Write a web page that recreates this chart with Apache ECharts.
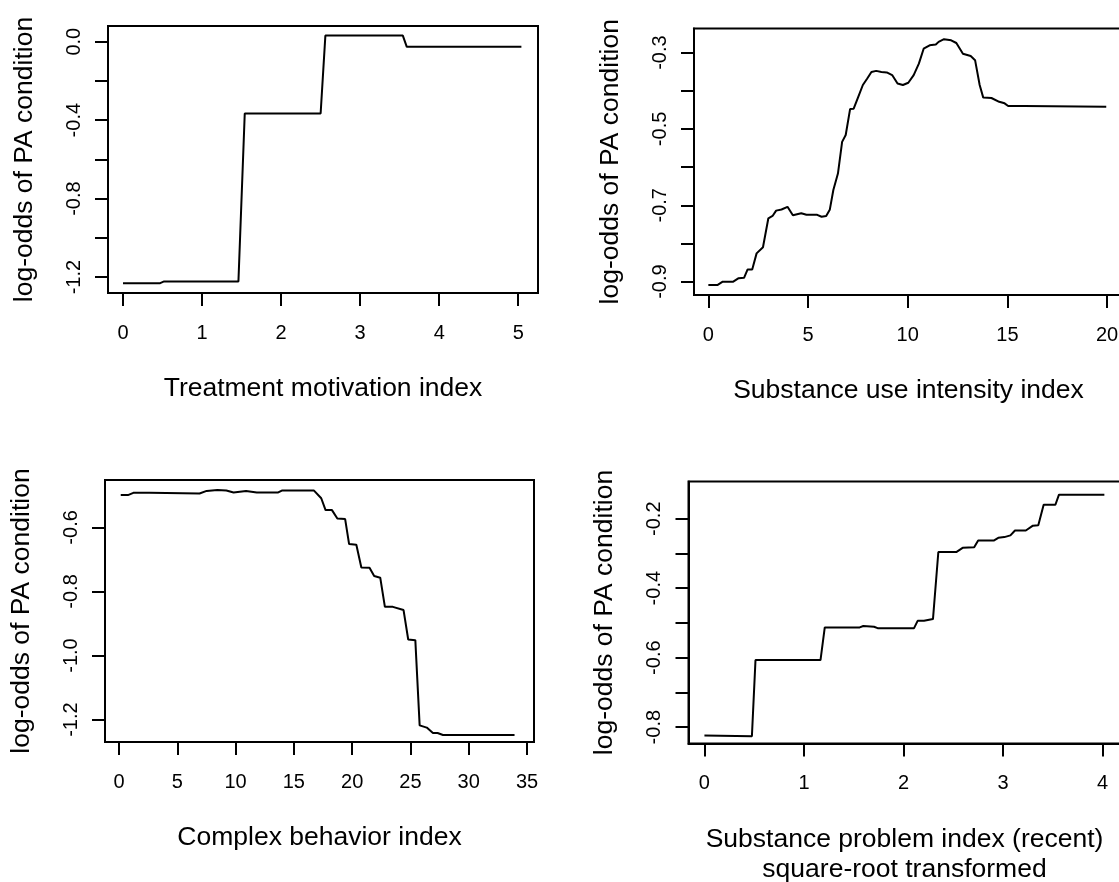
<!DOCTYPE html>
<html>
<head>
<meta charset="utf-8">
<script src="https://cdn.jsdelivr.net/npm/echarts@6/dist/echarts.min.js"></script>
<style>
  html, body { margin: 0; padding: 0; background: #fff; }
  #chart { width: 1119px; height: 882px; }
</style>
</head>
<body>
<div id="chart"></div>
<script>
// partial dependence curves
const motivX = [0, 0.47, 0.52, 1.46, 1.54, 2.50, 2.56, 3.54, 3.59, 5.04];
const motivY = [-1.231, -1.231, -1.222, -1.222, -0.366, -0.366, 0.031, 0.031, -0.026, -0.026];

const useX = [0, 0.45, 0.72, 1.25, 1.52, 1.79, 1.97, 2.20, 2.42, 2.74, 3.01, 3.22, 3.40, 3.67, 3.97,
  4.24, 4.66, 4.92, 5.46, 5.68, 5.91, 6.09, 6.27, 6.50, 6.71, 6.89, 7.11, 7.29, 7.52, 7.75, 7.97,
  8.18, 8.42, 8.68, 8.95, 9.22, 9.49, 9.76, 10.03, 10.30, 10.56, 10.80, 11.10, 11.41, 11.55, 11.82,
  12.18, 12.44, 12.77, 13.16, 13.38, 13.61, 13.79, 14.20, 14.59, 14.86, 15.04, 15.85, 19.96];
const useY = [-0.909, -0.909, -0.900, -0.900, -0.891, -0.890, -0.868, -0.868, -0.826, -0.810, -0.734,
  -0.728, -0.714, -0.711, -0.704, -0.726, -0.721, -0.725, -0.725, -0.730, -0.728, -0.712, -0.660,
  -0.617, -0.534, -0.516, -0.448, -0.447, -0.416, -0.385, -0.368, -0.351, -0.348, -0.351, -0.352,
  -0.359, -0.381, -0.385, -0.379, -0.359, -0.329, -0.290, -0.281, -0.279, -0.272, -0.265, -0.268,
  -0.275, -0.303, -0.309, -0.320, -0.385, -0.418, -0.419, -0.429, -0.433, -0.440, -0.440, -0.442];

const cbX = [0.15, 0.77, 1.23, 2.61, 6.91, 7.52, 8.44, 9.21, 9.83, 10.90, 11.82, 13.66, 13.97, 16.73,
  17.35, 17.72, 18.27, 18.73, 19.40, 19.74, 20.36, 20.79, 21.49, 21.89, 22.41, 22.81, 23.49, 24.41,
  24.81, 25.42, 25.79, 26.40, 26.93, 27.33, 27.79, 33.93];
const cbY = [-0.499, -0.499, -0.492, -0.492, -0.494, -0.486, -0.483, -0.485, -0.491, -0.486, -0.491,
  -0.491, -0.485, -0.485, -0.509, -0.546, -0.546, -0.572, -0.574, -0.652, -0.654, -0.725, -0.726,
  -0.752, -0.757, -0.848, -0.848, -0.858, -0.950, -0.952, -1.218, -1.225, -1.242, -1.242, -1.248, -1.248];

const spX = [0, 0.477, 0.513, 1.166, 1.209, 1.56, 1.596, 1.704, 1.74, 2.106, 2.142, 2.206, 2.296, 2.35,
  2.53, 2.594, 2.71, 2.75, 2.906, 2.952, 3.013, 3.074, 3.12, 3.229, 3.30, 3.354, 3.408, 3.526, 3.562, 4.018];
const spY = [-0.824, -0.826, -0.607, -0.607, -0.513, -0.513, -0.509, -0.511, -0.515, -0.515, -0.494,
  -0.494, -0.489, -0.296, -0.296, -0.284, -0.282, -0.263, -0.263, -0.255, -0.253, -0.248, -0.234,
  -0.234, -0.220, -0.219, -0.160, -0.160, -0.131, -0.131];

// tick positions and labelled ticks
const xTicks = [[0, 1, 2, 3, 4, 5], [0, 5, 10, 15, 20], [0, 5, 10, 15, 20, 25, 30, 35], [0, 1, 2, 3, 4]];
const yTicks = [
  [0, -0.2, -0.4, -0.6, -0.8, -1.0, -1.2],
  [-0.3, -0.4, -0.5, -0.6, -0.7, -0.8, -0.9],
  [-0.6, -0.8, -1.0, -1.2],
  [-0.2, -0.3, -0.4, -0.5, -0.6, -0.7, -0.8]
];
const yLabels = [
  [0, -0.4, -0.8, -1.2],
  [-0.3, -0.5, -0.7, -0.9],
  [-0.6, -0.8, -1.0, -1.2],
  [-0.2, -0.4, -0.6, -0.8]
];
const xTitles = [
  'Treatment motivation index',
  'Substance use intensity index',
  'Complex behavior index',
  'Substance problem index (recent)\nsquare-root transformed'
];
const yTitle = 'log-odds of PA condition';

const xRanges = [[-0.19, 5.25], [-0.72, 20.8], [-1.2, 35.6], [-0.16, 4.18]];
const yRanges = [[-1.281, 0.080], [-0.935, -0.237], [-1.270, -0.452], [-0.847, -0.093]];

const grids = [
  { left: 108, top: 26, width: 430, height: 267 },
  { left: 694, top: 28.5, width: 429, height: 266.5 },
  { left: 105, top: 480, width: 429, height: 262 },
  { left: 688.5, top: 481.5, width: 432, height: 262 }
];

const font = 'Liberation Sans, Arial, Helvetica, sans-serif';
const zip = (xs, ys) => xs.map((x, i) => [x, ys[i]]);
const curves = [zip(motivX, motivY), zip(useX, useY), zip(cbX, cbY), zip(spX, spY)];

const option = {
  backgroundColor: '#fff',
  animation: false,
  grid: grids.map(g => Object.assign({
    show: true, borderColor: '#000', borderWidth: 2, backgroundColor: 'transparent',
    containLabel: false, outerBoundsMode: 'none'
  }, g)),
  xAxis: grids.map((g, i) => ({
    type: 'value', gridIndex: i,
    min: xRanges[i][0], max: xRanges[i][1],
    name: xTitles[i], nameLocation: 'middle', nameGap: 81,
    nameTextStyle: { fontFamily: font, fontSize: 26.5, color: '#000', lineHeight: 30, verticalAlign: 'top' },
    axisLine: { show: true, onZero: false, lineStyle: { color: '#000', width: 2 } },
    axisTick: { show: true, length: 13, lineStyle: { color: '#000', width: 2 }, customValues: xTicks[i] },
    axisLabel: { show: true, margin: 30, fontFamily: font, fontSize: 20, color: '#000', customValues: xTicks[i] },
    splitLine: { show: false }
  })),
  yAxis: grids.map((g, i) => ({
    type: 'value', gridIndex: i,
    min: yRanges[i][0], max: yRanges[i][1],
    name: yTitle, nameLocation: 'middle', nameGap: 70,
    nameTextStyle: { fontFamily: font, fontSize: 26.5, color: '#000' },
    axisLine: { show: true, onZero: false, lineStyle: { color: '#000', width: 2 } },
    axisTick: { show: true, length: 13, lineStyle: { color: '#000', width: 2 }, customValues: yTicks[i] },
    axisLabel: {
      show: true, rotate: 90, margin: 24, fontFamily: font, fontSize: 20, color: '#000',
      customValues: yLabels[i],
      formatter: v => (Math.abs(v) < 1e-9 ? 0 : v).toFixed(1)
    },
    splitLine: { show: false }
  })),
  series: curves.map((d, i) => ({
    type: 'line', xAxisIndex: i, yAxisIndex: i, data: d,
    showSymbol: false, symbol: 'none', smooth: false,
    lineStyle: { color: '#000', width: 2 }
  }))
};

const chart = echarts.init(document.getElementById('chart'), null, { renderer: 'canvas' });
chart.setOption(option);
</script>
</body>
</html>
